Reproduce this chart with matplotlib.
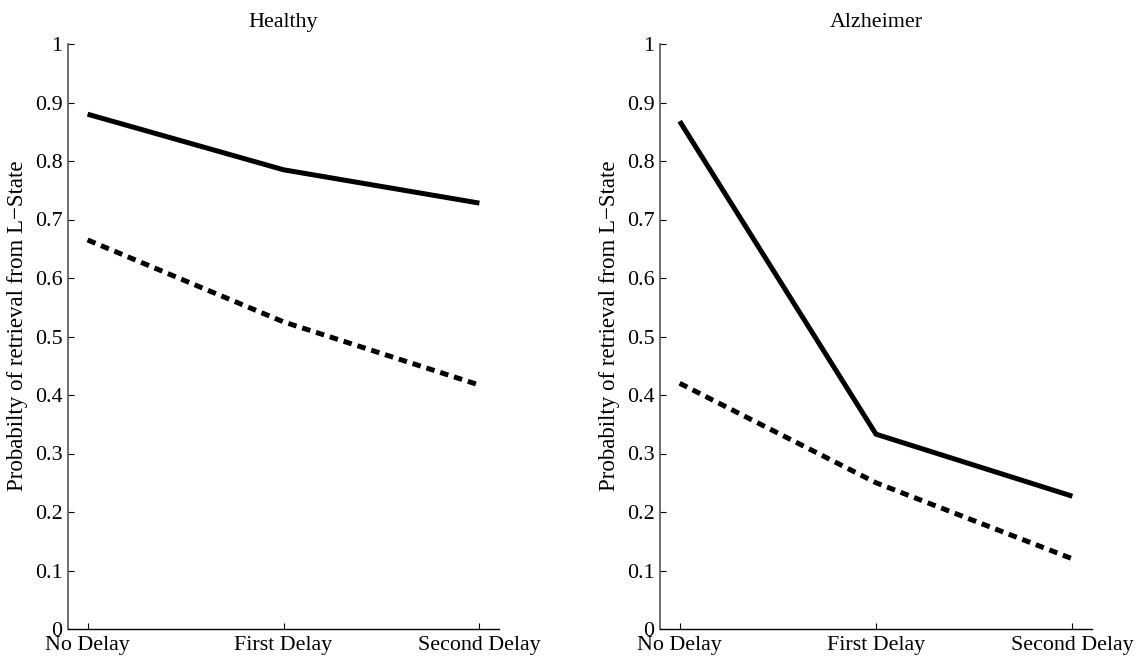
import matplotlib
matplotlib.use("Agg")
import matplotlib.pyplot as plt

categories = ["No Delay", "First Delay", "Second Delay"]
x_pos = [1, 2, 3]
titles = ["Healthy", "Alzheimer"]
healthy_solid = [0.880, 0.785, 0.728]
healthy_dotted = [0.665, 0.525, 0.417]
alz_solid = [0.868, 0.333, 0.227]
alz_dotted = [0.420, 0.250, 0.120]
yticks = [0, 0.1, 0.2, 0.3, 0.4, 0.5, 0.6, 0.7, 0.8, 0.9, 1]
ytick_labels = ["0", "0.1", "0.2", "0.3", "0.4", "0.5", "0.6", "0.7", "0.8", "0.9", "1"]
ylabel = "Probabilty of retrieval from L\u2212State"

plt.rcParams['font.family'] = ['Liberation Serif', 'DejaVu Serif']

W, H = 1141, 662
fig = plt.figure(figsize=(W / 100, H / 100), dpi=100)

axes_px = [(68, 499), (660, 1092)]
y0, y1 = 629, 44
series = [(healthy_solid, healthy_dotted), (alz_solid, alz_dotted)]

for (xa, xb), title, (solid, dotted) in zip(axes_px, titles, series):
    ax = fig.add_axes([xa / W, (H - y0) / H, (xb - xa) / W, (y0 - y1) / H])
    ax.plot(x_pos, solid, color='black', lw=3.6, solid_capstyle='butt', solid_joinstyle='round')
    ax.plot(x_pos, dotted, color='black', lw=3.6, linestyle=(0, (1.7, 1.2)),
            dash_capstyle='butt')
    ax.set_xlim(0.9, 3.1)
    ax.set_ylim(0, 1)
    ax.set_xticks(x_pos)
    ax.set_xticklabels(categories, fontsize=15.8)
    ax.set_yticks(yticks)
    ax.set_yticklabels(ytick_labels, fontsize=15.8)
    ax.tick_params(direction='in', length=4, width=0.8)
    ax.tick_params(axis='y', pad=4)
    ax.tick_params(axis='x', pad=5)
    for s in ['top', 'right']:
        ax.spines[s].set_visible(False)
    ax.spines['left'].set_color('#555555')
    ax.spines['left'].set_linewidth(1.2)
    ax.spines['bottom'].set_color('black')
    ax.spines['bottom'].set_linewidth(1.0)
    ax.set_title(title, fontsize=15.8, pad=12)
    ax.set_ylabel(ylabel, fontsize=16.5)
    ax.yaxis.set_label_coords(-40 / (xb - xa), (y0 - 326) / (y0 - y1))

fig.savefig("out.png", dpi=100)
